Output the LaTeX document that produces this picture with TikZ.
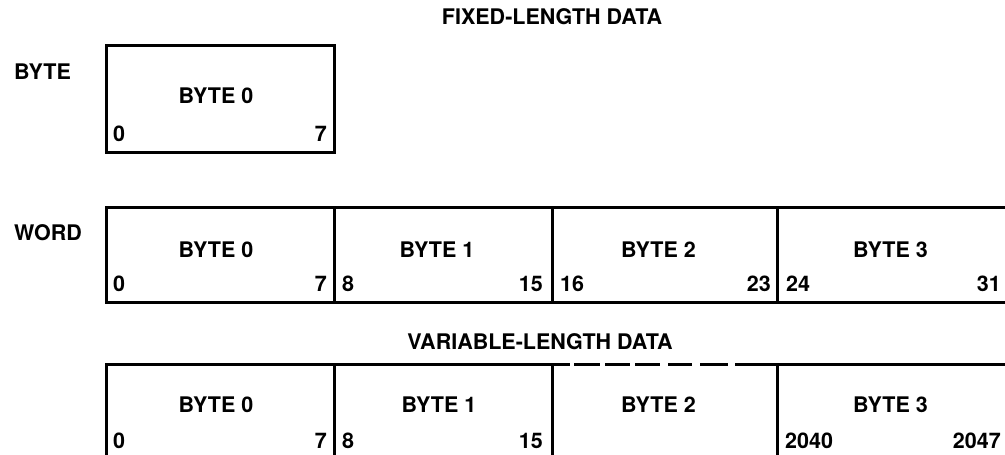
\documentclass[tikz,border=0pt]{standalone}
\usepackage{fontspec}
\setmainfont{TeX Gyre Heros}
\usepackage{tikz}
\usetikzlibrary{calc}

\begin{document}
\begin{tikzpicture}[x=1pt, y=-1pt,
        cell/.style={rectangle, draw, line width=3pt, anchor=north west,
                     inner sep=0pt, outer sep=0pt, minimum height=95pt},
        txt/.style={inner sep=0pt, font=\fontsize{21.5}{25}\selectfont\bfseries},
        lo/.style={txt, anchor=west},
        hi/.style={txt, anchor=east},
        gapline/.style={line width=3pt,
          dash pattern=on 18pt off 4pt on 26pt off 5pt on 25pt off 5pt on 25pt off 8pt
                       on 24pt off 8pt on 28pt off 7pt on 42pt}
      ]
        \useasboundingbox (0,0) rectangle (1005,455);
        \clip (0,0) rectangle (1005,455);

        % fixed-length data
        \node[txt] (fixed) at (552,17) {FIXED-LENGTH DATA};
        \node[txt, anchor=west] (byte) at (14,72) {BYTE};
        \node[cell, minimum width=228pt, minimum height=107pt] (fb0) at (106,45) {};
        \node[txt] at ($(fb0.north)+(-4,51)$) {BYTE 0};
        \node[lo] at ($(fb0.north west)+(7,89)$) {0};
        \node[hi] at ($(fb0.north east)+(-7,89)$) {7};

        \node[txt, anchor=west] (word) at (14,233) {WORD};
        \node[cell, minimum width=228pt] (w0) at (106,207) {};
        \node[cell, minimum width=218pt] (w1) at (w0.north east) {};
        \node[cell, minimum width=225pt] (w2) at (w1.north east) {};
        \node[cell, minimum width=231pt] (w3) at (w2.north east) {};
        \node[txt] at ($(w0.north)+(-4,43)$) {BYTE 0};
        \node[txt] at ($(w1.north)+(-6,43)$) {BYTE 1};
        \node[txt] at ($(w2.north)+(-6,43)$) {BYTE 2};
        \node[txt] at ($(w3.north)+(-2,43)$) {BYTE 3};
        \node[lo] at ($(w0.north west)+(7,77)$) {0};
        \node[hi] at ($(w0.north east)+(-7,77)$) {7};
        \node[lo] at ($(w1.north west)+(8,77)$) {8};
        \node[hi] at ($(w1.north east)+(-9,77)$) {15};
        \node[lo] at ($(w2.north west)+(8,77)$) {16};
        \node[hi] at ($(w2.north east)+(-6,77)$) {23};
        \node[lo] at ($(w3.north west)+(9,77)$) {24};
        \node[hi] at ($(w3.north east)+(-7,77)$) {31};

        % variable-length data
        \node[txt] (variable) at (540,342) {VARIABLE-LENGTH DATA};
        \node[cell, minimum width=228pt] (v0) at (106,364) {};
        \node[cell, minimum width=218pt] (v1) at (v0.north east) {};
        \node[cell, draw=none, minimum width=225pt] (v2) at (v1.north east) {};
        \node[cell, minimum width=231pt] (v3) at (v2.north east) {};
        \draw[gapline] (v2.north west) -- (v2.north east);
        \draw[gapline] (v2.south west) -- (v2.south east);
        \node[txt] at ($(v0.north)+(-4,41)$) {BYTE 0};
        \node[txt] at ($(v1.north)+(-4,41)$) {BYTE 1};
        \node[txt] at ($(v2.north)+(-6,41)$) {BYTE 2};
        \node[txt] at ($(v3.north)+(-2,41)$) {BYTE 3};
        \node[lo] at ($(v0.north west)+(7,77)$) {0};
        \node[hi] at ($(v0.north east)+(-7,77)$) {7};
        \node[lo] at ($(v1.north west)+(8,77)$) {8};
        \node[hi] at ($(v1.north east)+(-9,77)$) {15};
        \node[lo] at ($(v3.north west)+(8,77)$) {2040};
        \node[hi] at ($(v3.north east)+(-7,77)$) {2047};
      \end{tikzpicture}
\end{document}
